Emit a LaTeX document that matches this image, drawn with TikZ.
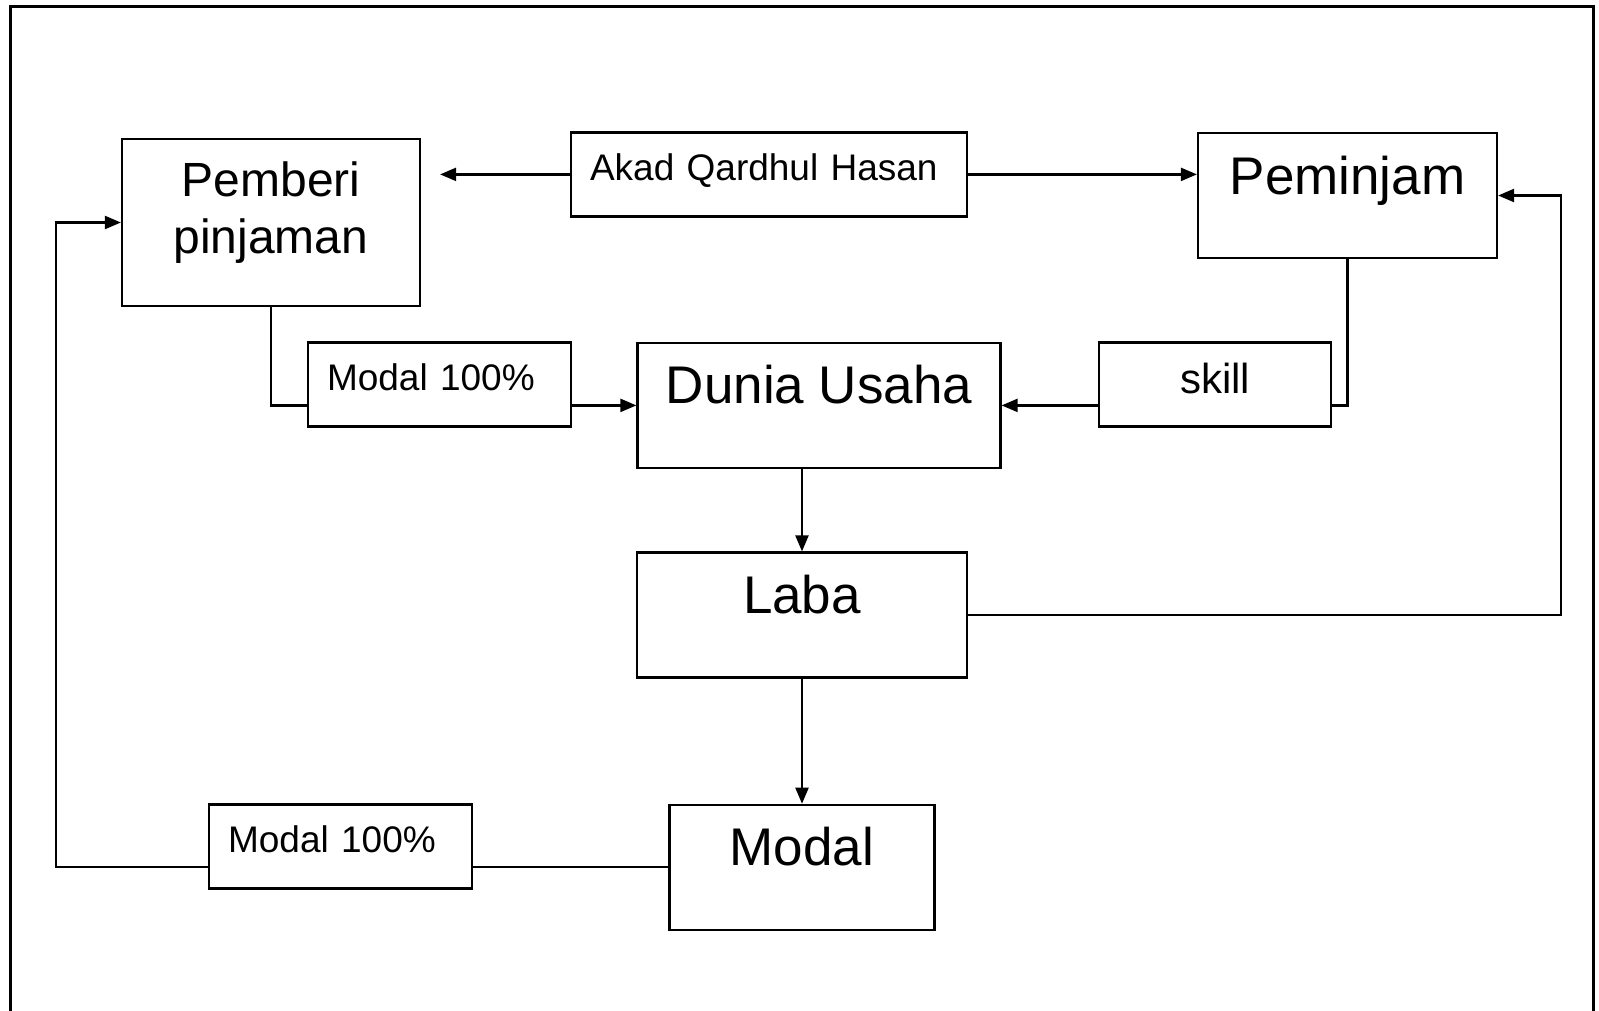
\documentclass[tikz,border=0pt]{standalone}
\usepackage{fontspec}
\setmainfont{Liberation Sans}
\usetikzlibrary{arrows.meta}

\newcommand*{\BigText}{\fontsize{53}{60}\selectfont}
\newcommand*{\MidText}{\fontsize{48}{57}\selectfont}
\newcommand*{\SmallText}{\fontsize{37}{44}\selectfont}

\tikzset{
  block/.style={draw, fill=white, line width=2.2pt, inner xsep=0pt, inner ysep=0pt},
  bigblock/.style={block, font=\BigText, minimum width=#1, text height=61pt, text depth=64pt},
  smallblock/.style={block, font=\SmallText, inner xsep=19pt, align=left, text height=48pt, text depth=36pt},
  ln/.style={line width=2.2pt},
  arr/.style={line width=2.2pt, -{Triangle[length=16pt,width=13pt]}}
}

\begin{document}
\begin{tikzpicture}[x=1pt, y=-1pt]
            \useasboundingbox (0,0) rectangle (1599,1010);
            \draw[line width=3pt] (10,1014) -- (10,6) -- (1593,6) -- (1593,1014);
            % kotak
            \node[block, font=\MidText, align=center, minimum width=298pt, text height=114pt, text depth=53pt] (pemberi) at (271,222.5) {Pemberi\\pinjaman};
            \node[smallblock, text width=358pt] (akad) at (769,174.4) {Akad Qardhul Hasan};
            \node[bigblock=299pt] (peminjam) at (1347.5,195.5) {Peminjam};
            \node[smallblock, text width=225pt] (modala) at (439.5,384.5) {Modal 100\%};
            \node[bigblock=363pt] (dunia) at (819,405.4) {Dunia Usaha};
            \node[smallblock, font=\fontsize{42}{48}\selectfont, align=center, minimum width=231.5pt, text height=51pt, text depth=33pt] (skill) at (1215,384.5) {skill};
            \node[bigblock=329.4pt] (laba) at (802,615) {Laba};
            \node[bigblock=265pt] (modal) at (802,867.3) {Modal};
            \node[smallblock, text width=225pt] (modalb) at (340.6,846.4) {Modal 100\%};
            \coordinate (kiri) at (56,0);
            \coordinate (kanan) at (1561,0);
            % panah
            \draw[arr] (akad.west) -- ([xshift=19pt]akad.west -| pemberi.east);
            \draw[arr] (akad.east) -- (akad.east -| peminjam.west);
            \draw[ln] (pemberi.south) |- (modala.west |- dunia.west);
            \draw[arr] (modala.east |- dunia.west) -- (dunia.west);
            \draw[ln] (peminjam.south) |- (skill.east |- dunia.east);
            \draw[arr] (skill.west |- dunia.east) -- (dunia.east);
            \draw[arr] (dunia.south -| laba.north) -- (laba.north);
            \draw[arr] (laba.south) -- (modal.north);
            \draw[arr] (laba.east) -| (kanan |- peminjam.east) -- (peminjam.east);
            \draw[ln] (modal.west) -- (modal.west -| modalb.east);
            \draw[arr] (modal.west -| modalb.west) -| (kiri |- pemberi.west) -- (pemberi.west);
          \end{tikzpicture}
\end{document}
